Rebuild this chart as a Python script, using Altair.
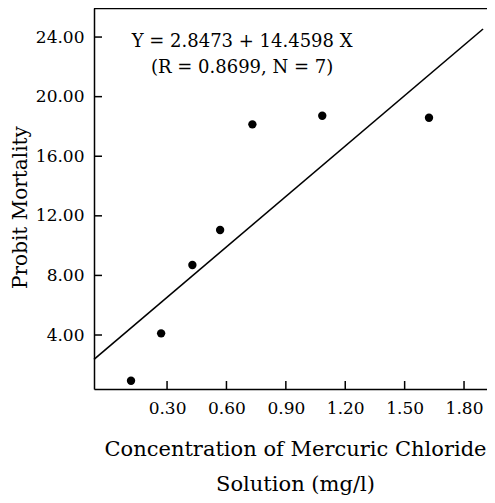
import altair as alt
import pandas as pd

# data
conc = [0.118, 0.27, 0.428, 0.568, 0.731, 1.084, 1.623]
probit = [0.93, 4.11, 8.70, 11.05, 18.14, 18.72, 18.58]

line_x = [-0.069, 1.896]
line_y = [2.36, 24.54]

x_ticks = [0.30, 0.60, 0.90, 1.20, 1.50, 1.80]
y_ticks = [4.0, 8.0, 12.0, 16.0, 20.0, 24.0]

ann_text = ["Y = 2.8473 + 14.4598 X", "(R = 0.8699, N = 7)"]
ann_x = [0.679, 0.679]
ann_y = [23.7, 21.95]

x_title = ["Concentration of Mercuric Chloride", "Solution (mg/l)"]
y_title = "Probit Mortality"

W, H = 393, 381
FONT = "DejaVu Serif"

pts = pd.DataFrame({"x": conc, "y": probit})
ln = pd.DataFrame({"x": line_x, "y": line_y})
xt = pd.DataFrame({"x": x_ticks})
yt = pd.DataFrame({"y": y_ticks})
ann = pd.DataFrame({"t": ann_text, "x": ann_x, "y": ann_y})

xs = alt.Scale(domain=[-0.069, 1.916], nice=False, zero=False)
ys = alt.Scale(domain=[0.376, 25.95], nice=False, zero=False)

x_axis = alt.Axis(
    values=x_ticks, format=".2f", title=x_title, grid=False,
    tickSize=0, labelPadding=11, labelFont=FONT, labelFontSize=17,
    labelColor="black", domainColor="black", domainWidth=1.5,
    titleFont=FONT, titleFontSize=21, titleFontWeight="normal",
    titleColor="black", titleLineHeight=35, titleBaseline="alphabetic",
    titleX=201, titleAlign="center", titleY=66)
y_axis = alt.Axis(
    values=y_ticks, format=".2f", title=y_title, grid=False,
    tickSize=0, labelPadding=10, labelFont=FONT, labelFontSize=17,
    labelColor="black", domainColor="black", domainWidth=1.5,
    titleFont=FONT, titleFontSize=20, titleFontWeight="normal",
    titleColor="black", titleBaseline="alphabetic", titleAngle=270,
    titleAlign="center", titleX=-68, titleY=199)

points = alt.Chart(pts).mark_circle(size=70, color="black", opacity=1).encode(
    x=alt.X("x:Q", scale=xs, axis=x_axis),
    y=alt.Y("y:Q", scale=ys, axis=y_axis),
)

fit = alt.Chart(ln).mark_line(color="black", strokeWidth=1.6).encode(
    x=alt.X("x:Q", scale=xs, axis=x_axis),
    y=alt.Y("y:Q", scale=ys, axis=y_axis),
)

yticks = alt.Chart(yt).mark_tick(orient="horizontal", size=8, thickness=1.5,
                                 color="black", opacity=1).encode(
    y=alt.Y("y:Q", scale=ys, axis=y_axis),
    x=alt.value(4),
)

xticks = alt.Chart(xt).mark_tick(orient="vertical", size=8, thickness=1.5,
                                 color="black", opacity=1).encode(
    x=alt.X("x:Q", scale=xs, axis=x_axis),
    y=alt.value(H - 4),
)

top = alt.Chart(pd.DataFrame({"a": [0]})).mark_rule(color="black", strokeWidth=1.5).encode(
    x=alt.value(0), x2=alt.value(W), y=alt.value(0.5)
)

text = alt.Chart(ann).mark_text(font=FONT, fontSize=18, color="black",
                                align="center", baseline="middle").encode(
    x=alt.X("x:Q", scale=xs, axis=x_axis),
    y=alt.Y("y:Q", scale=ys, axis=y_axis),
    text="t:N",
)

chart = alt.layer(points, fit, yticks, xticks, top, text).properties(
    width=W, height=H,
    autosize=alt.AutoSizeParams(type="none"),
    padding={"left": 86, "top": 0, "right": 0, "bottom": 106},
).configure_view(stroke=None).configure(background="white")

chart.save("out.html", embed_options={"renderer": "svg", "actions": False})
